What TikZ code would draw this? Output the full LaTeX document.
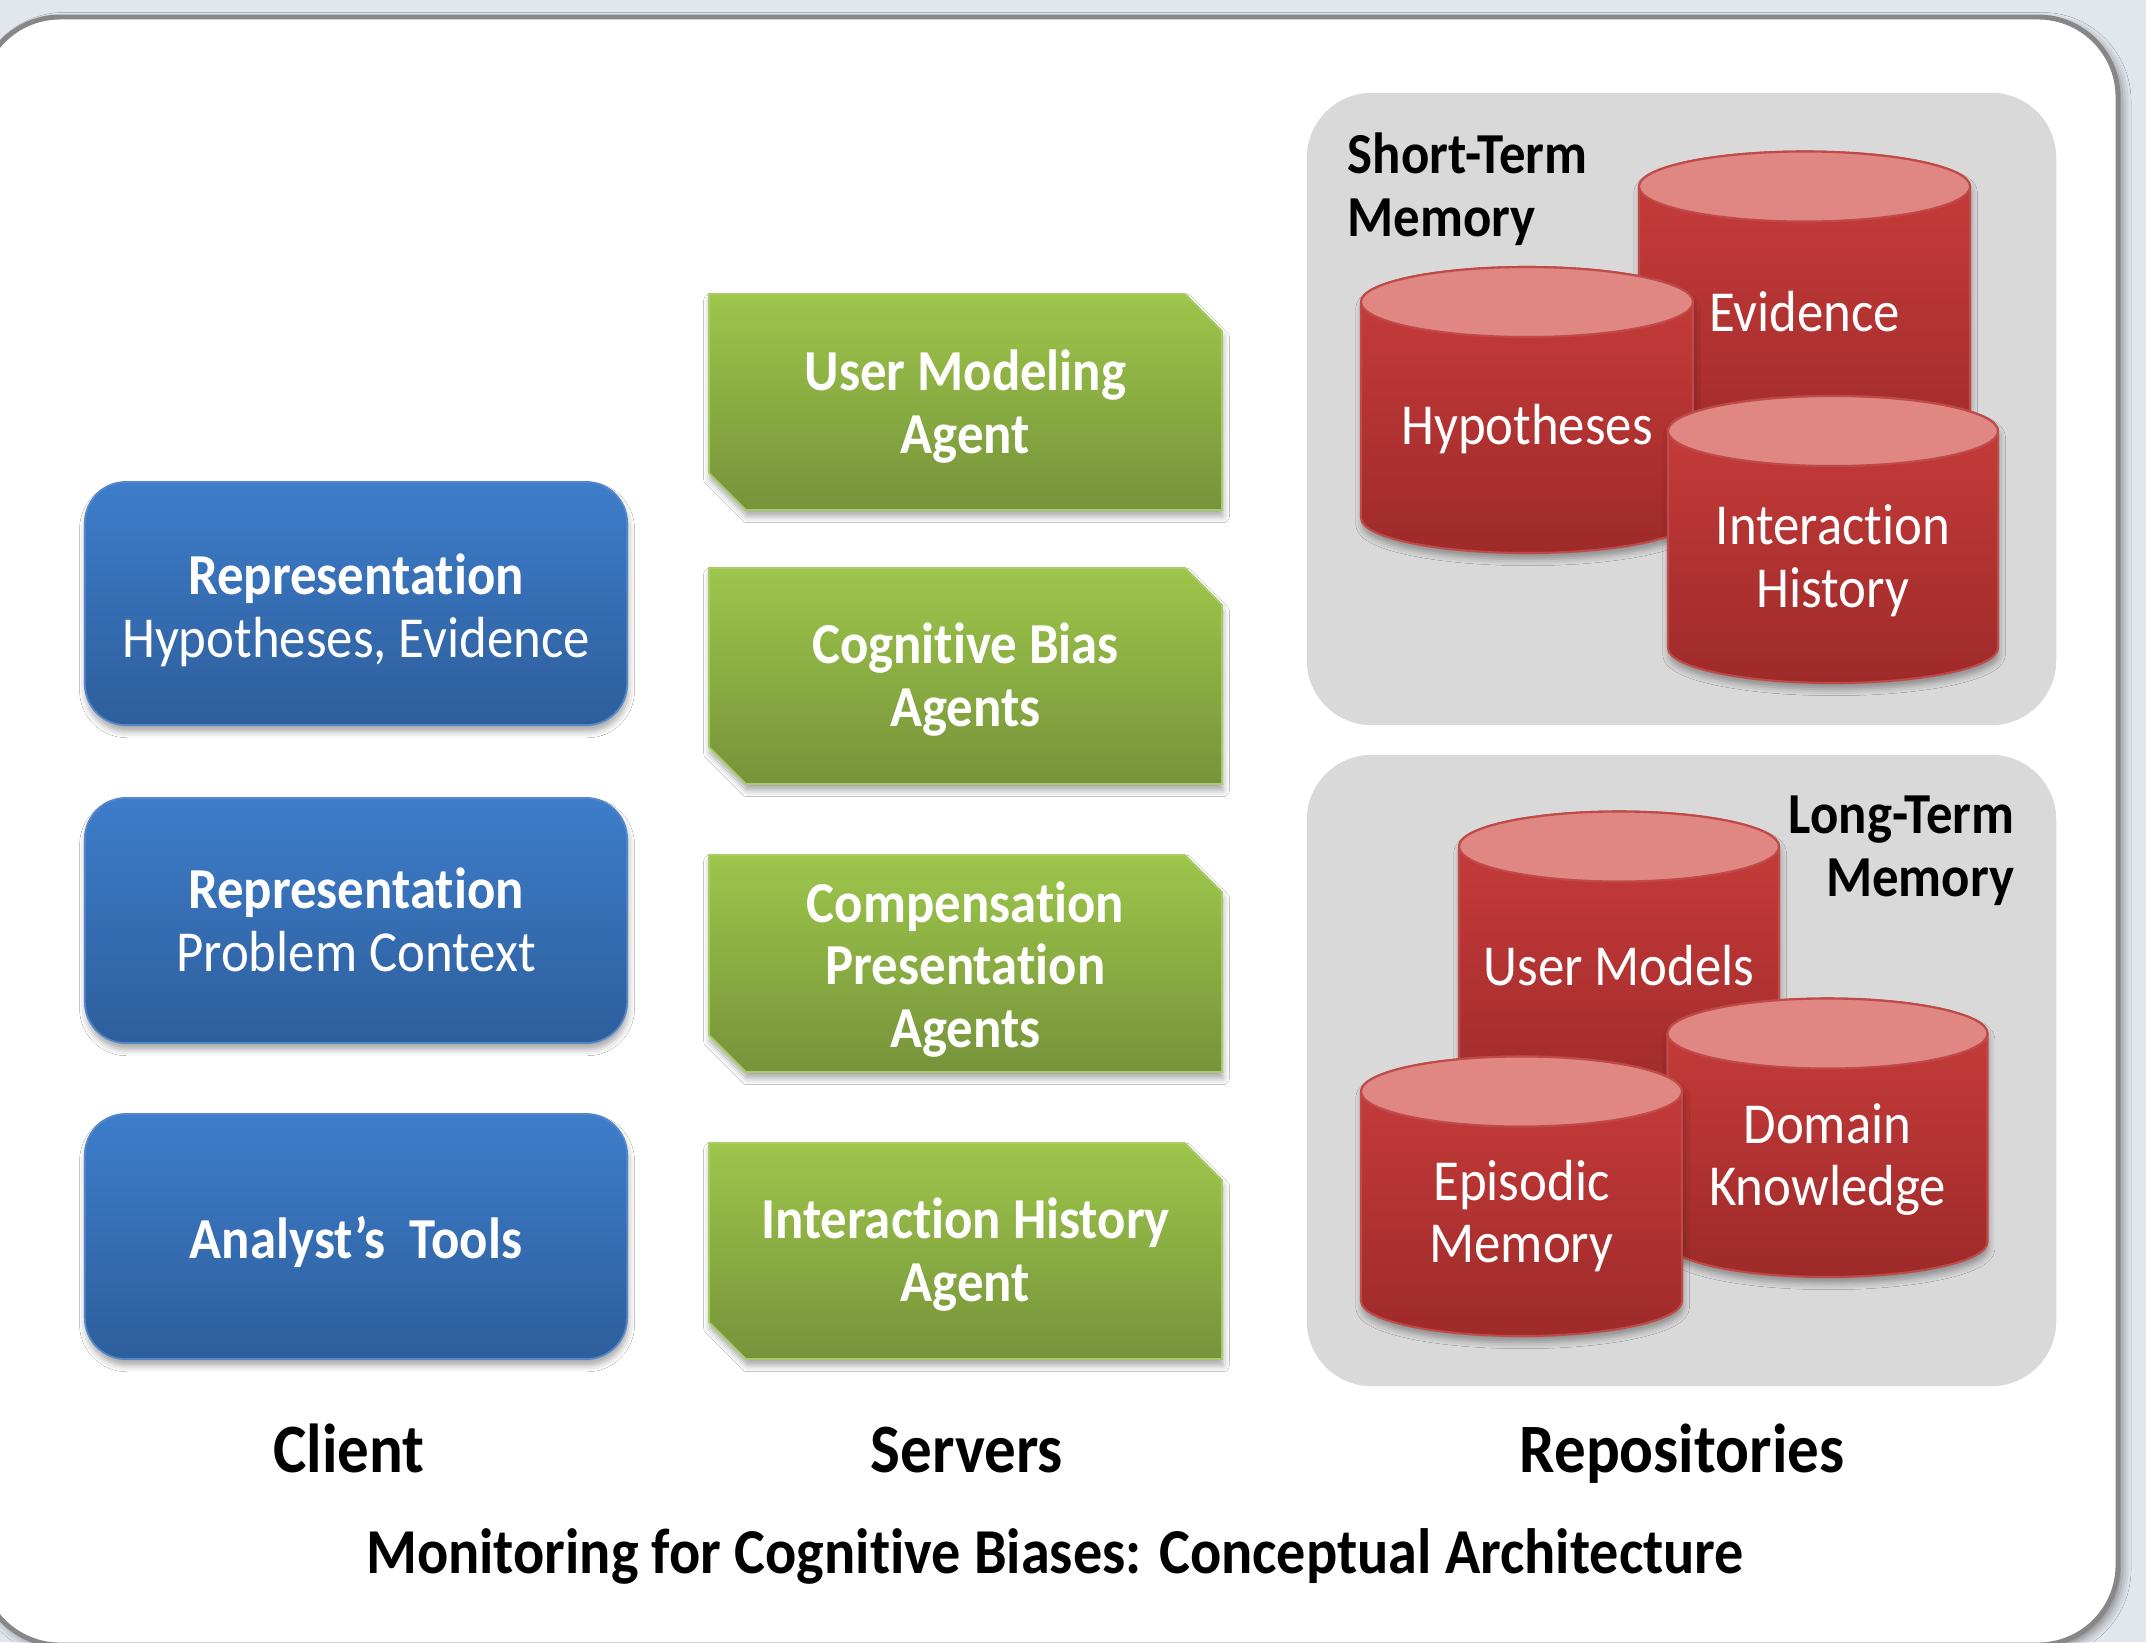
\documentclass[tikz,border=0pt]{standalone}
\usepackage{fontspec}
\setmainfont{Carlito}[FakeStretch=0.91, Ligatures={NoCommon,NoContextual}]
\usetikzlibrary{shadows.blur}

\definecolor{pagebg}{HTML}{E2E7EE}
\definecolor{framegray}{HTML}{878787}
\definecolor{paneltone}{HTML}{D9D9D9}
\definecolor{bluetop}{HTML}{3D7DCA}
\definecolor{bluebot}{HTML}{2E5E9C}
\definecolor{blueedge}{HTML}{5588C8}
\definecolor{greentop}{HTML}{9DC64B}
\definecolor{greenbot}{HTML}{76933A}
\definecolor{greenedge}{HTML}{A9CC66}
\definecolor{redtop}{HTML}{C93D3B}
\definecolor{redbot}{HTML}{9E2A2A}
\definecolor{redcap}{HTML}{E08683}
\definecolor{rededge}{HTML}{C04A47}

\newcommand{\boxfont}{\fontsize{16.5}{17.9}\selectfont}
\newcommand{\headfont}{\fontsize{19.7}{21}\selectfont\bfseries}
\newcommand{\captionfont}{\fontsize{18.2}{20}\selectfont\bfseries}

\tikzset{
  softshadow/.style={blur shadow={shadow xshift=0.3pt, shadow yshift=-1.8pt,
      shadow blur radius=1.8pt, shadow opacity=35}},
  outerframe/.style={fill=white, draw=framegray, line width=1.4pt,
      rounded corners=0.8cm,
      blur shadow={shadow xshift=1.2pt, shadow yshift=-1.2pt,
      shadow blur radius=2.5pt, shadow opacity=45}},
  panel/.style={fill=paneltone, rounded corners=0.65cm, inner sep=0pt},
  clientbox/.style={rectangle, rounded corners=0.41cm, top color=bluetop,
      bottom color=bluebot, draw=blueedge, line width=0.5pt,
      minimum width=5.42cm, softshadow},
  agentshape/.style={top color=greentop, bottom color=greenbot,
      draw=greenedge, line width=0.5pt, softshadow},
  drumbody/.style={top color=redtop, bottom color=redbot, draw=rededge,
      line width=0.6pt, softshadow},
  drumcap/.style={fill=redcap, draw=rededge, line width=0.6pt},
  boxtext/.style={text=white, font=\boxfont, align=center, inner sep=0pt},
  boldboxtext/.style={boxtext, font=\boxfont\bfseries},
  paneltitle/.style={text=black, font=\boxfont\bfseries, inner sep=0pt},
  headtext/.style={text=black, font=\headfont, inner sep=0pt, anchor=base},
  captiontext/.style={text=black, font=\captionfont, inner sep=0pt, anchor=base}
}

% cylinder: centre x, x radius, top centre y, bottom centre y
\newcommand{\drumshape}[4]{%
  \path[drumbody] (#1-#2,#3) -- (#1-#2,#4)
     arc[start angle=180, end angle=0, x radius=#2, y radius=35]
     -- (#1+#2,#3)
     arc[start angle=0, end angle=-180, x radius=#2, y radius=35] -- cycle;
  \path[drumcap] (#1,#3) ellipse[x radius=#2, y radius=35];
}

% agent block with chamfered top-right and bottom-left corners
\newcommand{\agentblock}[2]{%
  \path[agentshape] (709,#1) -- (1185,#1) -- (1222,#1+37) -- (1222,#2)
     -- (746,#2) -- (709,#2-37) -- cycle;
}

\begin{document}
\begin{tikzpicture}[x=0.01cm,y=-0.01cm]
\useasboundingbox (0,0) rectangle (2146,1642);
\clip (0,0) rectangle (2146,1642);
\fill[pagebg] (0,0) rectangle (2146,1642);

% white sheet
\path[outerframe] (-20,17) rectangle (2118,1645);

% repository panels
\node[panel, minimum width=7.49cm, minimum height=6.32cm] (stm) at (1681.5,409) {};
\node[panel, minimum width=7.49cm, minimum height=6.31cm] (ltm) at (1681.5,1070.5) {};

% client column
\node[clientbox, minimum height=2.43cm] (rep1) at (356,603.5) {};
\node[clientbox, minimum height=2.45cm] (rep2) at (356,920.5) {};
\node[clientbox, minimum height=2.45cm] (tools) at (356,1236.5) {};

\node[boxtext] (rep1txt) at (356,610) {\textbf{Representation}\\Hypotheses, Evidence};
\node[boxtext] (rep2txt) at (356,920) {\textbf{Representation}\\Problem Context};
\node[boldboxtext] (toolstxt) at (356,1241.5) {Analyst’s\ \ Tools};

% server column
\agentblock{294}{510}
\agentblock{568}{784}
\agentblock{855}{1072}
\agentblock{1143}{1359}

\node[boldboxtext] (uma) at (965.5,406.5) {User Modeling\\Agent};
\node[boldboxtext] (cba) at (965.5,680) {Cognitive Bias\\Agents};
\node[boldboxtext] (cpa) at (965.5,969.5) {Compensation\\Presentation\\Agents};
\node[boldboxtext] (iha) at (965.5,1255) {Interaction History\\Agent};

% short-term memory stores
\drumshape{1804.5}{165.5}{186.5}{440}
\drumshape{1527}{166}{302}{518}
\drumshape{1833}{165}{431}{648}

\node[boxtext] (evid) at (1804.5,311.5) {Evidence};
\node[boxtext] (hyp) at (1527,429.5) {Hypotheses};
\node[boxtext] (ihist) at (1833,560.5) {Interaction\\History};

% long-term memory stores
\drumshape{1619}{160}{846.5}{1080}
\drumshape{1827.5}{160}{1033.5}{1242}
\drumshape{1521.5}{160.5}{1091.5}{1301}

\node[boxtext] (umod) at (1619,965.5) {User Models};
\node[boxtext] (dom) at (1827.5,1159.5) {Domain\\Knowledge};
\node[boxtext] (epi) at (1521.5,1216) {Episodic\\Memory};

% panel labels
\node[paneltitle, anchor=west, align=left] (stmlabel) at (1347,189.5) {Short-Term\\Memory};
\node[paneltitle, anchor=east, align=right] (ltmlabel) at (2015,851) {Long-Term\\Memory};

% column headings and caption
\node[headtext] (client) at (349,1472) {Client};
\node[headtext] (servers) at (967,1472) {Servers};
\node[headtext] (repos) at (1682,1472) {Repositories};
\node[captiontext] (caption) at (1055,1573) {Monitoring for Cognitive Biases: Conceptual Architecture};
\end{tikzpicture}
\end{document}
